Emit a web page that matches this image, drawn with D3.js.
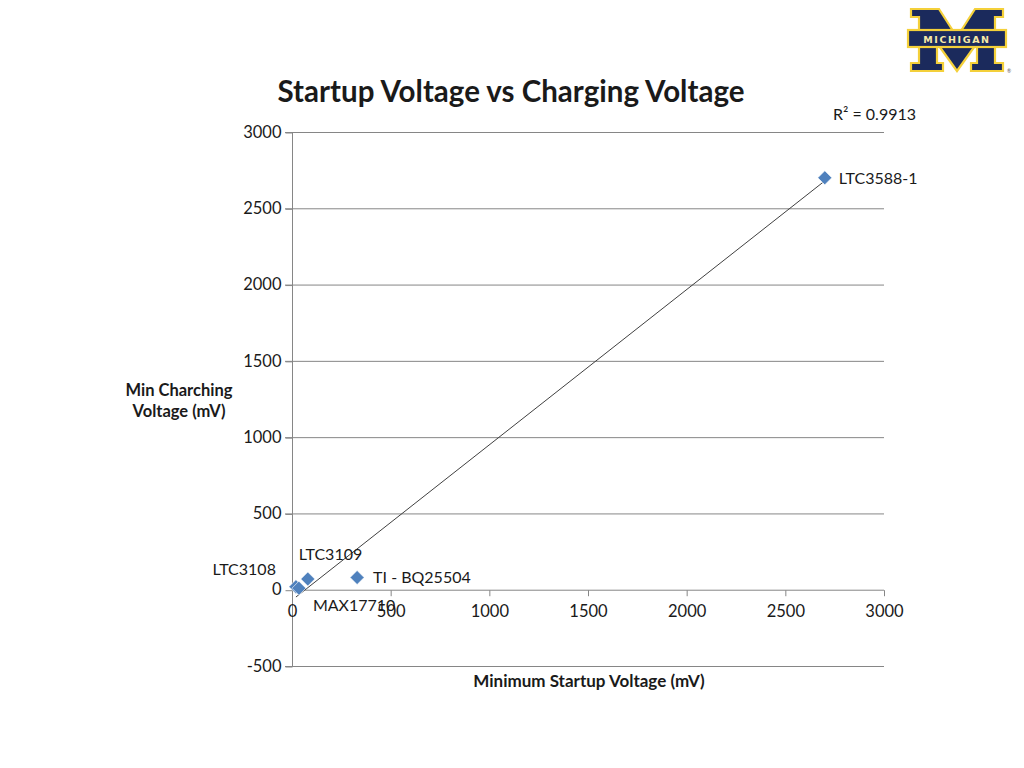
<!DOCTYPE html>
<html><head><meta charset="utf-8">
<script src="https://cdn.jsdelivr.net/npm/d3@7"></script>
<style>body{margin:0;background:#fff}svg{display:block}text{font-family:Lato,"Open Sans",sans-serif;fill:#1a1a1a}</style>
</head><body>
<svg id="c" width="1024" height="768"></svg>
<script>
// ---- data ----
const names = ["LTC3108", "MAX17710", "LTC3109", "TI - BQ25504", "LTC3588-1"];
const startupVoltage = [20, 35, 80, 330, 2700];   // x (mV)
const chargingVoltage = [20, 10, 70, 80, 2700];   // y (mV)
const xTicks = [0, 500, 1000, 1500, 2000, 2500, 3000];
const yTicks = [-500, 0, 500, 1000, 1500, 2000, 2500, 3000];
const title = "Startup Voltage vs Charging Voltage";
const xTitle = "Minimum Startup Voltage (mV)";
const yTitle = ["Min Charching", "Voltage (mV)"];
const r2Text = "R² = 0.9913";
// label placement (style)
const labelPlace = [
  {anchor:"end", dx:-20, dy:-12},
  {anchor:"start", dx:14, dy:23},
  {anchor:"start", dx:-9, dy:-19},
  {anchor:"start", dx:16, dy:5},
  {anchor:"start", dx:14, dy:6}
];

const svg = d3.select("#c");
const x = d3.scaleLinear().domain([0, 3000]).range([292, 884]);
const y = d3.scaleLinear().domain([-500, 3000]).range([666, 132]);
const grid = "#868686";
const tickFont = "16.5px";

// gridlines
svg.append("g").selectAll("line").data(yTicks.filter(d => d !== 0)).join("line")
  .attr("x1", x(0) - 7).attr("x2", x(3000))
  .attr("y1", d => y(d) + 0.5).attr("y2", d => y(d) + 0.5)
  .attr("stroke", grid).attr("stroke-width", 1);

// y axis
const yAxis = svg.append("g").attr("transform", `translate(${x(0)+0.5},0)`)
  .call(d3.axisLeft(y).tickValues(yTicks).tickSize(7).tickPadding(4).tickFormat(d => String(d)));
yAxis.select(".domain").attr("stroke", grid).attr("d", `M0,${y(3000)}V${y(-500)}`);
yAxis.selectAll(".tick line").attr("stroke", grid).attr("y1", 0.5).attr("y2", 0.5);
yAxis.selectAll(".tick text").style("font-size", tickFont).attr("fill", "#1a1a1a").style("font-family", "Lato");

// x axis at y=0
const xAxis = svg.append("g").attr("transform", `translate(0,${y(0)+0.5})`)
  .call(d3.axisBottom(x).tickValues(xTicks).tickSize(6).tickPadding(9).tickFormat(d => String(d)));
xAxis.select(".domain").attr("stroke", grid).attr("d", `M${x(0)},0H${x(3000)}`);
xAxis.selectAll(".tick line").attr("stroke", grid);
xAxis.selectAll(".tick text").style("font-size", tickFont).attr("fill", "#1a1a1a").style("font-family", "Lato");

// trendline via least squares
const n = names.length;
const mx = d3.mean(startupVoltage), my = d3.mean(chargingVoltage);
let sxy = 0, sxx = 0;
for (let i = 0; i < n; i++) { sxy += (startupVoltage[i]-mx)*(chargingVoltage[i]-my); sxx += (startupVoltage[i]-mx)**2; }
const slope = sxy / sxx, icpt = my - slope * mx;
const xmin = d3.min(startupVoltage), xmax = d3.max(startupVoltage);
svg.append("line")
  .attr("x1", x(xmin)).attr("y1", y(slope*xmin+icpt))
  .attr("x2", x(xmax)).attr("y2", y(slope*xmax+icpt))
  .attr("stroke", "#404040").attr("stroke-width", 1);

// markers
const pts = names.map((nm, i) => ({nm, x: startupVoltage[i], y: chargingVoltage[i], p: labelPlace[i]}));
svg.append("g").selectAll("path").data(pts).join("path")
  .attr("transform", d => `translate(${x(d.x)},${y(d.y)})`)
  .attr("d", "M0,-7L7,0L0,7L-7,0Z")
  .attr("fill", "#4f81bd").attr("stroke", "#ffffff").attr("stroke-width", 0.6);

// labels
svg.append("g").selectAll("text").data(pts).join("text")
  .attr("x", d => x(d.x) + d.p.dx).attr("y", d => y(d.y) + d.p.dy)
  .attr("text-anchor", d => d.p.anchor)
  .style("font-size", "16px").text(d => d.nm);

// titles
svg.append("text").attr("x", 511).attr("y", 102).attr("text-anchor", "middle")
  .style("font-size", "29.5px").style("font-weight", "bold").text(title);
svg.append("text").attr("x", 589).attr("y", 687).attr("text-anchor", "middle")
  .style("font-size", "17px").style("font-weight", "bold").text(xTitle);
svg.append("g").selectAll("text").data(yTitle).join("text")
  .attr("x", 179).attr("y", (d, i) => 396 + i * 21).attr("text-anchor", "middle")
  .style("font-size", "16.5px").style("font-weight", "bold").text(d => d);
svg.append("text").attr("x", 916).attr("y", 120).attr("text-anchor", "end")
  .style("font-size", "16px").text(r2Text);

// Michigan logo
const logo = svg.append("g").attr("transform", "translate(909,9)");
const navy = "#1b2a5c", gold = "#f4d03a";
logo.append("path")
  .attr("d", "M2,0H30L48,28L66,0H94V8H86V54H94V62H62V54H68V34L48,62L28,34V54H34V62H2V54H10V8H2Z")
  .attr("fill", navy).attr("stroke", gold).attr("stroke-width", 2.2).attr("stroke-linejoin", "miter");
logo.append("rect").attr("x", -1).attr("y", 21).attr("width", 98).attr("height", 17)
  .attr("fill", navy).attr("stroke", gold).attr("stroke-width", 2.2);
logo.append("text").attr("x", 48).attr("y", 33.5).attr("text-anchor", "middle")
  .style("font-size", "9.5px").style("font-weight", "bold").style("letter-spacing", "1.6px")
  .style("font-family", "'DejaVu Sans'").style("fill", "#f7e9a8").text("MICHIGAN");
logo.append("text").attr("x", 98).attr("y", 64).style("font-size", "5px").style("fill", "#555").text("®");
</script>
</body></html>
